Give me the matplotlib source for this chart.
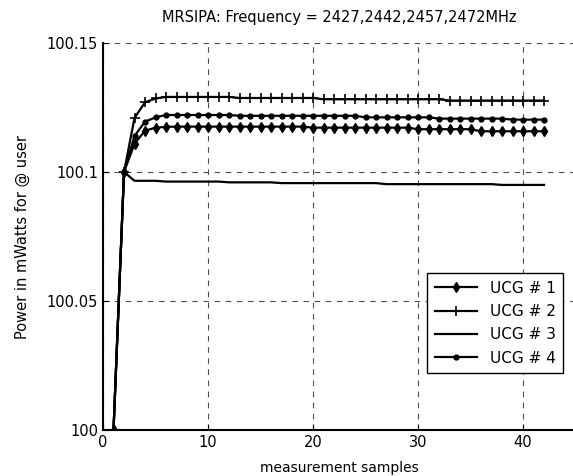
import matplotlib.pyplot as plt

# measurement samples
samples = list(range(1, 43))

# power per UCG (mW)
ucg1 = [100.0, 100.1, 100.1110, 100.1160, 100.1172, 100.1175,
        100.1176, 100.1176, 100.1176, 100.1176, 100.1176, 100.1176, 100.1176,
        100.1176, 100.1176, 100.1176, 100.1176, 100.1176, 100.1176,
        100.1172, 100.1172, 100.1172, 100.1172, 100.1172, 100.1172, 100.1172,
        100.1172, 100.1172, 100.1172,
        100.1166, 100.1166, 100.1166, 100.1166, 100.1166, 100.1166,
        100.1158, 100.1158, 100.1158, 100.1158, 100.1158, 100.1158, 100.1158]
ucg2 = [100.0, 100.1, 100.1210, 100.1270, 100.1285,
        100.1291, 100.1291, 100.1291, 100.1291, 100.1291, 100.1291, 100.1291,
        100.1287, 100.1287, 100.1287, 100.1287, 100.1287, 100.1287, 100.1287, 100.1287,
        100.1282, 100.1282, 100.1282, 100.1282, 100.1282, 100.1282, 100.1282,
        100.1282, 100.1282, 100.1282, 100.1282, 100.1282,
        100.1277, 100.1277, 100.1277, 100.1277, 100.1277, 100.1277, 100.1277,
        100.1277, 100.1277, 100.1277]
ucg3 = [100.0, 100.1, 100.0966, 100.0966, 100.0966,
        100.0963, 100.0963, 100.0963, 100.0963, 100.0963, 100.0963,
        100.0960, 100.0960, 100.0960, 100.0960, 100.0960,
        100.0957, 100.0957, 100.0957, 100.0957, 100.0957, 100.0957, 100.0957,
        100.0957, 100.0957, 100.0957,
        100.0953, 100.0953, 100.0953, 100.0953, 100.0953, 100.0953, 100.0953,
        100.0953, 100.0953, 100.0953, 100.0953,
        100.0950, 100.0950, 100.0950, 100.0950, 100.0950]
ucg4 = [100.0, 100.1, 100.1140, 100.1195, 100.1212,
        100.1221, 100.1221, 100.1221, 100.1221, 100.1221, 100.1221, 100.1221,
        100.1218, 100.1218, 100.1218, 100.1218, 100.1218, 100.1218, 100.1218,
        100.1218, 100.1218, 100.1218, 100.1218, 100.1218,
        100.1212, 100.1212, 100.1212, 100.1212, 100.1212, 100.1212, 100.1212,
        100.1207, 100.1207, 100.1207, 100.1207, 100.1207, 100.1207, 100.1207,
        100.1203, 100.1203, 100.1203, 100.1203]

labels = ["UCG # 1", "UCG # 2", "UCG # 3", "UCG # 4"]
yticks = [100, 100.05, 100.1, 100.15]
ytick_labels = ["100", "100.05", "100.1", "100.15"]

plt.rcParams["font.family"] = "DejaVu Sans"
plt.rcParams["font.size"] = 10

fig = plt.figure(figsize=(5.73, 4.76), dpi=100)
ax = fig.add_axes([0.1798, 0.0966, 0.8246, 0.813])

ax.plot(samples, ucg1, color="black", lw=1.6, marker="d", markersize=5, label=labels[0])
ax.plot(samples, ucg2, color="black", lw=1.6, marker="+", markersize=7, markeredgewidth=1.2, label=labels[1])
ax.plot(samples, ucg3, color="black", lw=1.6, label=labels[2])
ax.plot(samples, ucg4, color="black", lw=1.6, marker=".", markersize=7, label=labels[3])

ax.set_xlim(0, 45)
ax.set_ylim(100, 100.15)
ax.set_xticks([0, 10, 20, 30, 40])
ax.set_yticks(yticks)
ax.set_yticklabels(ytick_labels)
ax.tick_params(direction="in", length=4, labelsize=10.5)

ax.spines["top"].set_visible(False)
ax.spines["right"].set_visible(False)
ax.spines["left"].set_linewidth(1.5)
ax.spines["bottom"].set_linewidth(1.5)

ax.grid(True, linestyle=(0, (5, 5)), color="0.3", lw=0.8)
ax.set_axisbelow(True)

ax.set_title("MRSIPA: Frequency = 2427,2442,2457,2472MHz", fontsize=10.5, pad=15)
ax.set_xlabel("measurement samples", fontsize=10, labelpad=8)
ax.set_ylabel("Power in mWatts for @ user", fontsize=10.5, labelpad=12)

leg = ax.legend(loc="upper left", bbox_to_anchor=(427 / 573, 1 - 273 / 476),
                bbox_transform=fig.transFigure, fontsize=11, fancybox=False,
                framealpha=1, edgecolor="black", handlelength=2.8,
                borderpad=0.5, labelspacing=0.55, borderaxespad=0)
leg.get_frame().set_linewidth(1.0)

plt.savefig("out.png")
